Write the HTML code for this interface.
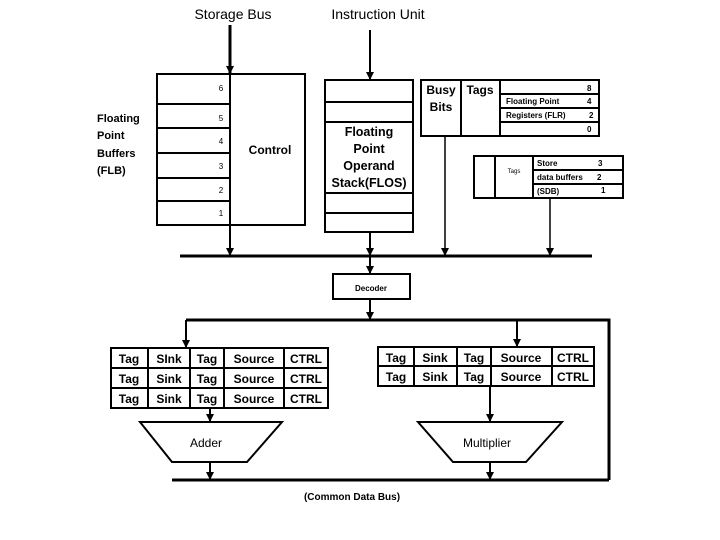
<!DOCTYPE html>
<html><head><style>body{margin:0;background:#fff}svg{display:block}</style></head><body>
<svg width="720" height="540" viewBox="0 0 720 540" xmlns="http://www.w3.org/2000/svg" font-family="Liberation Sans, sans-serif">
<defs><marker id="a" markerWidth="8" markerHeight="8" refX="8" refY="4" orient="auto" markerUnits="userSpaceOnUse"><path d="M0,0 L8,4 L0,8 Z" fill="#000"/></marker></defs>
<g fill="none" stroke="#000" stroke-width="2">
<line x1="230" y1="25" x2="230" y2="74" stroke-width="3" marker-end="url(#a)"/>
<line x1="370" y1="30" x2="370" y2="80" marker-end="url(#a)"/>
<rect x="157" y="74" width="148" height="151"/>
<path d="M157 104H230M157 128H230M157 153H230M157 178H230M157 201H230"/>
<line x1="230" y1="74" x2="230" y2="256" marker-end="url(#a)"/>
<rect x="325" y="80" width="88" height="152"/>
<path d="M325 102H413M325 122H413M325 193H413M325 213H413"/>
<line x1="370" y1="232" x2="370" y2="256" marker-end="url(#a)"/>
<rect x="421" y="80" width="178" height="56"/>
<path d="M461 80V136M500 80V136M500 94H599M500 108H599M500 122H599"/>
<line x1="445" y1="136" x2="445" y2="256" stroke-width="1.5" marker-end="url(#a)"/>
<rect x="474" y="156" width="149" height="42"/>
<path d="M495 156V198M533 156V198M533 170H623M533 184H623"/>
<line x1="550" y1="198" x2="550" y2="256" stroke-width="1.5" marker-end="url(#a)"/>
<line x1="180" y1="256" x2="592" y2="256" stroke-width="3"/>
<line x1="370" y1="256" x2="370" y2="274" marker-end="url(#a)"/>
<rect x="333" y="274" width="77" height="25"/>
<line x1="370" y1="299" x2="370" y2="320" marker-end="url(#a)"/>
<path d="M186 320H609V480" stroke-width="3"/>
<line x1="186" y1="320" x2="186" y2="348" marker-end="url(#a)"/>
<line x1="517" y1="320" x2="517" y2="347" marker-end="url(#a)"/>
<rect x="111" y="348" width="217" height="60"/>
<path d="M111 368H328M111 388H328M148 348V408M190 348V408M224 348V408M284 348V408"/>
<rect x="378" y="347" width="216" height="39"/>
<path d="M378 366H594M414 347V386M457 347V386M491 347V386M552 347V386"/>
<line x1="210" y1="408" x2="210" y2="422" marker-end="url(#a)"/>
<line x1="490" y1="386" x2="490" y2="422" marker-end="url(#a)"/>
<path d="M140 422H282L247 462H172Z"/>
<path d="M418 422H562L526 462H453Z"/>
<line x1="210" y1="462" x2="210" y2="480" marker-end="url(#a)"/>
<line x1="490" y1="462" x2="490" y2="480" marker-end="url(#a)"/>
<line x1="172" y1="480" x2="609" y2="480" stroke-width="3"/>
</g>
<g fill="#000">
<text x="233" y="19" font-size="14" text-anchor="middle">Storage Bus</text>
<text x="378" y="19" font-size="14" text-anchor="middle">Instruction Unit</text>
<g font-size="11" font-weight="bold"><text x="97" y="122">Floating</text><text x="97" y="139">Point</text><text x="97" y="157">Buffers</text><text x="97" y="174">(FLB)</text></g>
<g font-size="8" text-anchor="middle"><text x="221" y="91">6</text><text x="221" y="121">5</text><text x="221" y="144">4</text><text x="221" y="169">3</text><text x="221" y="193">2</text><text x="221" y="216">1</text></g>
<text x="270" y="154" font-size="12" font-weight="bold" text-anchor="middle">Control</text>
<g font-size="12.5" font-weight="bold" text-anchor="middle"><text x="369" y="136">Floating</text><text x="369" y="153">Point</text><text x="369" y="170">Operand</text><text x="369" y="187">Stack(FLOS)</text></g>
<g font-size="12" font-weight="bold" text-anchor="middle"><text x="441" y="94">Busy</text><text x="441" y="111">Bits</text><text x="480" y="94">Tags</text></g>
<g font-size="8" font-weight="bold"><text x="506" y="104">Floating Point</text><text x="506" y="118">Registers (FLR)</text><text x="537" y="166">Store</text><text x="537" y="180">data buffers</text><text x="537" y="194">(SDB)</text>
<text x="587" y="91">8</text><text x="587" y="104">4</text><text x="589" y="118">2</text><text x="587" y="132">0</text><text x="598" y="166">3</text><text x="597" y="180">2</text><text x="601" y="193">1</text></g>
<text x="514" y="173" font-size="6" text-anchor="middle">Tags</text>
<text x="371" y="291" font-size="8" font-weight="bold" text-anchor="middle">Decoder</text>
<g font-size="12" font-weight="bold" text-anchor="middle">
<g><text x="129" y="363">Tag</text><text x="169" y="363">SInk</text><text x="207" y="363">Tag</text><text x="254" y="363">Source</text><text x="306" y="363">CTRL</text></g>
<g><text x="129" y="383">Tag</text><text x="169" y="383">Sink</text><text x="207" y="383">Tag</text><text x="254" y="383">Source</text><text x="306" y="383">CTRL</text></g>
<g><text x="129" y="403">Tag</text><text x="169" y="403">Sink</text><text x="207" y="403">Tag</text><text x="254" y="403">Source</text><text x="306" y="403">CTRL</text></g>
<g><text x="396" y="362">Tag</text><text x="435" y="362">Sink</text><text x="474" y="362">Tag</text><text x="521" y="362">Source</text><text x="573" y="362">CTRL</text></g>
<g><text x="396" y="381">Tag</text><text x="435" y="381">Sink</text><text x="474" y="381">Tag</text><text x="521" y="381">Source</text><text x="573" y="381">CTRL</text></g>
</g>
<text x="206" y="447" font-size="12" text-anchor="middle">Adder</text>
<text x="487" y="447" font-size="12" text-anchor="middle">Multiplier</text>
<text x="352" y="500" font-size="10" font-weight="bold" text-anchor="middle">(Common Data Bus)</text>
</g>
</svg>
</body></html>
